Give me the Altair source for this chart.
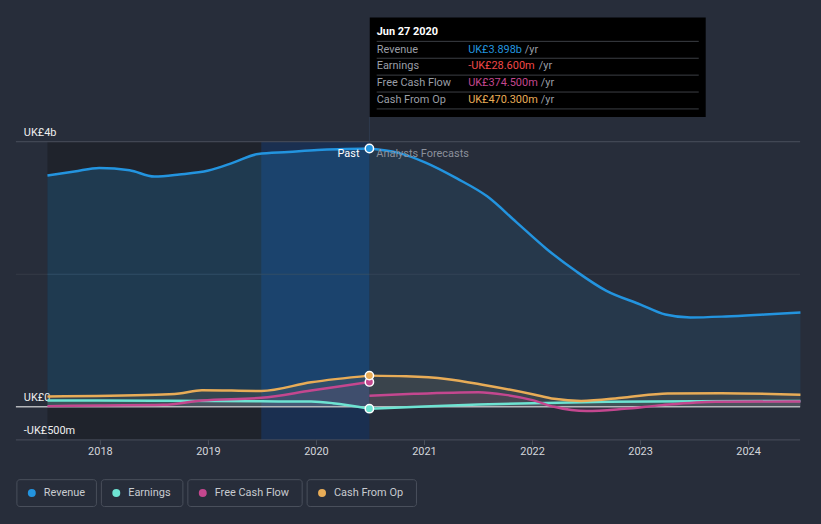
import altair as alt
import pandas as pd

# ---------------- data (UK£ m, decimal years) ----------------
series_names = ["Revenue", "Earnings", "Free Cash Flow", "Cash From Op"]
series_colors = ["#2394df", "#6ee3d2", "#c4478f", "#e8ac57"]

rev_past_x = [2017.51, 2017.76, 2017.99, 2018.27, 2018.50, 2018.73, 2019.00, 2019.23, 2019.46, 2019.74, 2020.01, 2020.49]
rev_past_y = [3491, 3551, 3605, 3570, 3475, 3506, 3566, 3685, 3815, 3845, 3875, 3898]
rev_fc_x = [2020.49, 2020.75, 2021.01, 2021.30, 2021.58, 2021.85, 2022.13, 2022.41, 2022.68, 2023.00, 2023.23, 2023.46, 2023.79, 2024.15, 2024.48]
rev_fc_y = [3898, 3835, 3685, 3446, 3176, 2787, 2382, 2037, 1753, 1543, 1393, 1348, 1363, 1393, 1423]

earn_past_x = [2017.51, 2018.50, 2019.49, 2019.95, 2020.15, 2020.49]
earn_past_y = [95, 92, 82, 78, 55, -28.6]
earn_fc_x = [2020.49, 2021.00, 2021.50, 2022.00, 2022.70, 2023.50, 2024.48]
earn_fc_y = [-28.6, 5, 35, 55, 75, 85, 88]

fcf_past_x = [2017.51, 2018.00, 2018.58, 2018.94, 2019.49, 2019.95, 2020.49]
fcf_past_y = [10, 20, 30, 95, 135, 245, 374.5]
fcf_fc_x = [2020.49, 2020.90, 2021.50, 2021.75, 2022.00, 2022.20, 2022.50, 2022.85, 2023.20, 2023.70, 2024.48]
fcf_fc_y = [165, 195, 220, 180, 100, 0, -65, -30, 25, 75, 80]

cfo_past_x = [2017.51, 2018.51, 2018.73, 2018.94, 2019.49, 2019.95, 2020.49]
cfo_past_y = [155, 180, 200, 250, 238, 370, 470.3]
cfo_fc_x = [2020.49, 2020.83, 2021.20, 2021.55, 2022.00, 2022.20, 2022.45, 2022.85, 2023.25, 2023.75, 2024.48]
cfo_fc_y = [470.3, 460, 420, 330, 190, 120, 88, 140, 200, 205, 180]

now_x = 2020.49
band_start_x = 2019.49
data_start_x = 2017.51
x_domain = [2017.218, 2024.477]
y_domain = [-500, 4000]
year_ticks = [2018, 2019, 2020, 2021, 2022, 2023, 2024]
y_label_values = [4000, 0, -500]
y_label_texts = ["UK£4b", "UK£0", "-UK£500m"]

tooltip_title = "Jun 27 2020"
tooltip_values = ["UK£3.898b", "-UK£28.600m", "UK£374.500m", "UK£470.300m"]
tooltip_value_colors = ["#2394df", "#f04848", "#c4478f", "#e8ac57"]

# ---------------- build table ----------------
rows = []
def add(name, seg, xv, yv):
    for x, y in zip(xv, yv):
        rows.append({"year": x, "value": y, "series": name, "segment": seg, "key": name + "-" + seg})

add("Revenue", "past", rev_past_x, rev_past_y)
add("Revenue", "forecast", rev_fc_x, rev_fc_y)
add("Earnings", "past", earn_past_x, earn_past_y)
add("Earnings", "forecast", earn_fc_x, earn_fc_y)
add("Free Cash Flow", "past", fcf_past_x, fcf_past_y)
add("Free Cash Flow", "forecast", fcf_fc_x, fcf_fc_y)
add("Cash From Op", "past", cfo_past_x, cfo_past_y)
add("Cash From Op", "forecast", cfo_fc_x, cfo_fc_y)
df = pd.DataFrame(rows)

now_df = pd.DataFrame({
    "year": [now_x] * 4,
    "value": [rev_past_y[-1], earn_past_y[-1], fcf_past_y[-1], cfo_past_y[-1]],
    "series": series_names,
})

FONT = "Roboto"
BG = "#272d3a"
W, H = 789, 300

xs = alt.Scale(domain=x_domain, nice=False, zero=False)
ys = alt.Scale(domain=y_domain, nice=False, zero=False)
cs = alt.Scale(domain=series_names, range=series_colors)


# layout helpers: pixel offsets inside the plot -> positions on the shared scales
def PX(px):
    return x_domain[0] + px * (x_domain[1] - x_domain[0]) / W


def PY(py):
    return y_domain[1] - py * (y_domain[1] - y_domain[0]) / H


def xq(f):
    return alt.X(f, type="quantitative", scale=xs, axis=None)


def yq(f):
    return alt.Y(f, type="quantitative", scale=ys, axis=None)


def x2q(f):
    return alt.X2(f)


def y2q(f):
    return alt.Y2(f)


layers = []


def rect(x0, x1, y0, y1, **mk):
    d = pd.DataFrame({"x0": [x0], "x1": [x1], "y0": [y0], "y1": [y1]})
    layers.append(alt.Chart(d).mark_rect(**mk).encode(x=xq("x0"), x2=x2q("x1"), y=yq("y0"), y2=y2q("y1")))


def hrule(y, x0, x1, **mk):
    d = pd.DataFrame({"x0": [x0], "x1": [x1], "y0": [y]})
    layers.append(alt.Chart(d).mark_rule(**mk).encode(x=xq("x0"), x2=x2q("x1"), y=yq("y0")))


def text(x, y, t, **mk):
    d = pd.DataFrame({"x0": [x], "y0": [y], "t": [t]})
    layers.append(alt.Chart(d).mark_text(font=FONT, fontSize=11, **mk).encode(x=xq("x0"), y=yq("y0"), text="t:N"))


# past region backgrounds
rect(data_start_x, band_start_x, y_domain[0], y_domain[1], color="#1f232c")
rect(band_start_x, now_x, y_domain[0], y_domain[1], color="#1a2f50")

# grid lines
hrule(4000, x_domain[0], x_domain[1], color="#4a505c", strokeWidth=1)
hrule(2000, x_domain[0], x_domain[1], color="#353b48", strokeWidth=1)
hrule(-500, x_domain[0], x_domain[1], color="#4a505c", strokeWidth=1)

# y labels
for v, t in zip(y_label_values, y_label_texts):
    text(PX(8), v, t, align="left", baseline="alphabetic", dy=-6, color="#eeeeee")

# x axis: ticks and year labels
tick_df = pd.DataFrame({"x0": year_ticks, "y0": [PY(H)] * len(year_ticks), "y1": [PY(H + 5)] * len(year_ticks)})
layers.append(alt.Chart(tick_df).mark_rule(color="#4a505c", strokeWidth=1).encode(
    x=xq("x0"), y=yq("y0"), y2=y2q("y1")))
lab_df = pd.DataFrame({"x0": year_ticks, "y0": [PY(H + 12.5)] * len(year_ticks), "t": [str(y) for y in year_ticks]})
layers.append(alt.Chart(lab_df).mark_text(font=FONT, fontSize=11, align="center", baseline="middle",
                                          color="#d4d6da").encode(x=xq("x0"), y=yq("y0"), text="t:N"))

# revenue area
layers.append(alt.Chart(df[(df.series == "Revenue") & (df.segment == "past")]).mark_area(
    interpolate="monotone", color="#2394df", opacity=0.2).encode(
    x=xq("year"), y=alt.Y("value", type="quantitative", scale=ys, axis=None, stack=None)))
layers.append(alt.Chart(df[(df.series == "Revenue") & (df.segment == "forecast")]).mark_area(
    interpolate="monotone", color="#2394df", opacity=0.11).encode(
    x=xq("year"), y=alt.Y("value", type="quantitative", scale=ys, axis=None, stack=None)))

layers.append(alt.Chart(df[df.series != "Revenue"]).mark_area(interpolate="monotone", opacity=0.1).encode(
    x=xq("year"), y=alt.Y("value", type="quantitative", scale=ys, axis=None, stack=None), detail="key:N",
    color=alt.Color("series:N", scale=cs, legend=None)))

# zero line
hrule(0, x_domain[0], x_domain[1], color="#b4b6ba", strokeWidth=1.5)

# lines
layers.append(alt.Chart(df).mark_line(interpolate="monotone", strokeWidth=2.5).encode(
    x=xq("year"), y=yq("value"),
    detail="key:N", color=alt.Color("series:N", scale=cs, legend=None)))

# "now" marker line above the plot
vd = pd.DataFrame({"x0": [now_x], "y0": [PY(-25)], "y1": [y_domain[1]]})
layers.append(alt.Chart(vd).mark_rule(color="#2e3a4f", strokeWidth=1).encode(x=xq("x0"), y=yq("y0"), y2=y2q("y1")))

layers.append(alt.Chart(now_df).mark_point(filled=True, size=70, stroke="white", strokeWidth=1.5, opacity=1).encode(
    x=xq("year"), y=yq("value"), color=alt.Color("series:N", scale=cs, legend=None)))

text(now_x, PY(12), "Past", align="right", baseline="middle", dx=-10, color="#ffffff")
text(now_x, PY(12), "Analysts Forecasts", align="left", baseline="middle", dx=7, color="#8b909a")

# ---------------- tooltip box ----------------
rect(PX(356), PX(694), PY(-125), PY(-25), color="#000000")
for i in range(5):
    hrule(PY(-101 + 17 * i), PX(363), PX(687), color="#3c3f46", strokeWidth=1)
text(PX(363), PY(-110), tooltip_title, align="left", baseline="middle", color="#ffffff", fontWeight="bold")
yr_offsets = [512, 526, 528, 528]
for i in range(4):
    py = -92.7 + 17 * i
    text(PX(363), PY(py), series_names[i], align="left", baseline="middle", color="#9a9ea6")
    text(PX(455), PY(py), tooltip_values[i], align="left", baseline="middle", color=tooltip_value_colors[i])
    text(PX(yr_offsets[i]), PY(py), "/yr", align="left", baseline="middle", color="#9a9ea6")

# ---------------- legend ----------------
box_x0 = [1, 86, 173, 293]
box_x1 = [81, 168, 288, 403]
for i in range(4):
    rect(PX(box_x0[i]), PX(box_x1[i]), PY(340), PY(367), fillOpacity=0, stroke="#4a505c", strokeWidth=1,
         cornerRadius=3)
    pd_ = pd.DataFrame({"x0": [PX(box_x0[i] + 15)], "y0": [PY(353.5)]})
    layers.append(alt.Chart(pd_).mark_point(filled=True, size=64, shape="circle", color=series_colors[i],
                                            opacity=1).encode(x=xq("x0"), y=yq("y0")))
    text(PX(box_x0[i] + 27), PY(353.5), series_names[i], align="left", baseline="middle", color="#c8cbd0")

chart = alt.layer(*layers).properties(
    width=W, height=H, background=BG, padding=15,
).configure_view(stroke=None)

chart.save("out.html", embed_options={"renderer": "svg", "actions": False})
